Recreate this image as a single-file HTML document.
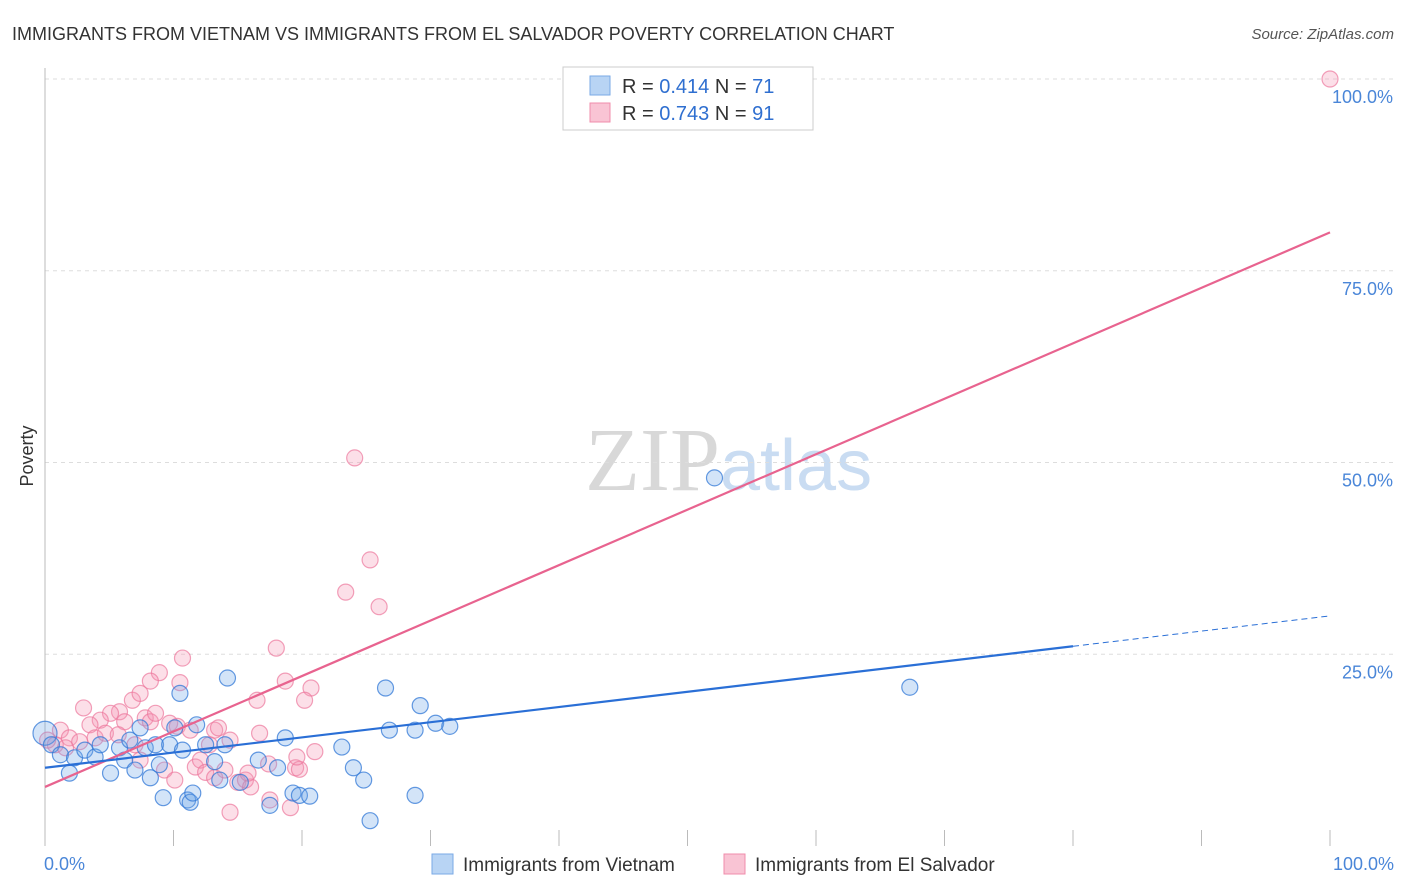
<!DOCTYPE html>
<html><head><meta charset="utf-8">
<style>
body{margin:0;background:#fff;font-family:"Liberation Sans",sans-serif;}
svg{display:block}
</style></head><body>
<svg id="c" width="1406" height="892" xmlns="http://www.w3.org/2000/svg">
<text x="12" y="40" font-size="18" fill="#333">IMMIGRANTS FROM VIETNAM VS IMMIGRANTS FROM EL SALVADOR POVERTY CORRELATION CHART</text>
<text x="1394" y="39" font-size="15" fill="#555" font-style="italic" text-anchor="end">Source: ZipAtlas.com</text>
<text x="720" y="490" font-size="90" fill="#d8d8d8" font-family="Liberation Serif,serif" text-anchor="end">ZIP</text>
<text x="720" y="490" font-size="72" fill="#c9dcf2">atlas</text>
<text transform="translate(33,456) rotate(-90)" font-size="18" fill="#333" text-anchor="middle">Poverty</text>
<g id="grid"></g><g id="pts"></g><g id="lines"></g>
<rect x="563" y="67" width="250" height="63" fill="#fff" stroke="#ccc"/>
<rect x="590" y="76" width="20" height="19" fill="#b8d4f4" stroke="#7aaae6"/>
<rect x="590" y="103" width="20" height="19" fill="#f9c4d4" stroke="#f08cab"/>
<text x="622" y="93" font-size="20" fill="#333">R = <tspan fill="#2f6fd0">0.414</tspan>   N = <tspan fill="#2f6fd0">71</tspan></text>
<text x="622" y="120" font-size="20" fill="#333">R = <tspan fill="#2f6fd0">0.743</tspan>   N = <tspan fill="#2f6fd0">91</tspan></text>
<rect x="432" y="854" width="21" height="20" fill="#b8d4f4" stroke="#7aaae6"/>
<text x="463" y="871" font-size="19" fill="#333">Immigrants from Vietnam</text>
<rect x="724" y="854" width="21" height="20" fill="#f9c4d4" stroke="#f08cab"/>
<text x="755" y="871" font-size="19" fill="#333">Immigrants from El Salvador</text>
</svg>
<script>
const yTicks=[25,50,75,100];
const yTickLabels=["25.0%","50.0%","75.0%","100.0%"];
const xTickLabels=["0.0%","100.0%"];
const vietX=[0,.5,1.2,1.9,2.3,3.1,3.9,4.3,5.1,5.8,6.2,6.6,7.0,7.4,7.8,8.2,8.6,8.9,9.2,9.7,10.1,10.5,10.7,11.1,11.3,11.5,11.8,12.5,13.2,13.6,14.0,14.2,15.2,16.6,17.5,18.1,18.7,19.3,19.8,20.6,23.1,24.0,24.8,25.3,26.5,26.8,28.8,28.8,29.2,30.4,31.5,52.1,67.3];
const vietY=[14.7,13.2,11.9,9.5,11.5,12.5,11.6,13.2,9.5,12.8,11.2,13.8,9.9,15.4,12.8,8.9,13.2,10.6,6.3,13.2,15.4,19.9,12.5,6.0,5.7,6.9,15.8,13.2,11.0,8.6,13.2,21.9,8.3,11.2,5.3,10.2,14.1,6.9,6.6,6.5,12.9,10.2,8.6,3.3,20.6,15.1,15.1,6.6,18.3,16.0,15.6,48.0,20.7];
const salvX=[100,24.1,25.3,23.4,26.0,18.0,10.7,8.9,8.2,10.5,18.7,20.7,20.2,16.5,3.0,6.8,7.4,5.8,5.1,4.3,3.5,1.2,1.9,.8,.2,1.6,2.7,3.9,4.7,6.2,7.8,8.2,8.6,9.7,10.3,11.3,12.8,13.2,13.5,14.4,16.7,11.7,12.1,12.5,13.2,14.0,15.0,15.6,16.0,15.8,17.4,19.5,19.8,21.0,19.6,19.1,17.5,14.4,9.3,10.1,7.0,7.4,5.7];
const salvY=[100,50.6,37.3,33.1,31.2,25.8,24.5,22.6,21.5,21.3,21.5,20.6,19.0,19.0,18.0,19.0,19.9,17.5,17.3,16.4,15.8,15.1,14.1,13.2,13.8,12.8,13.6,14.1,14.7,16.2,16.7,16.2,17.3,16.0,15.6,15.1,13.2,15.1,15.4,13.8,14.7,10.3,11.2,9.6,8.9,9.9,8.3,8.6,7.7,9.5,10.7,10.2,10.0,12.3,11.6,5.0,6.0,4.4,9.9,8.6,13.2,11.2,14.5];
const vietLine=[10.2,30.0];
const salvLine=[7.7,80.0];
const X0=45,X1=1330,Y0=846,Y1=79;
const sx=v=>X0+(X1-X0)*v/100, sy=v=>Y0-(Y0-Y1)*v/100;
const NS="http://www.w3.org/2000/svg";
function mk(t,a,p){const e=document.createElementNS(NS,t);for(const k in a)e.setAttribute(k,a[k]);p.appendChild(e);return e;}
const g=document.getElementById('grid');
yTicks.forEach((t,i)=>{
 const l=mk('line',{x1:X0,x2:1395,y1:sy(t),y2:sy(t),stroke:'#ddd','stroke-dasharray':'4,4'},g);
 
 
 const tx=mk('text',{x:1393,y:sy(t)+24,'font-size':18,fill:'#4a86d8','text-anchor':'end'},g);
 tx.textContent=yTickLabels[i];
 
 
});
const ax=mk('line',{x1:X0,x2:X0,y1:68,y2:846,stroke:'#bbb'},g);


for(let i=0;i<=10;i++){
 const t=mk('line',{x1:sx(i*10),x2:sx(i*10),y1:830,y2:846,stroke:'#bbb'},g);
 
 
}
[[0,'start',44],[100,'end',1394]].forEach((d,i)=>{
 const t=mk('text',{x:d[2],y:870,'font-size':18,fill:'#4a86d8','text-anchor':d[1]},g);
 t.textContent=xTickLabels[i];
 
 
});
const p=document.getElementById('pts');
function pts(xs,ys,fill,stroke,name){
 xs.forEach((x,i)=>{
  const c=mk('circle',{cx:sx(x),cy:sy(ys[i]),r:i===0&&name==='vietnam-point'?12:8,fill:fill,stroke:stroke,'stroke-width':1.2},p);
  
  
 });
}
pts(salvX,salvY,'rgba(244,150,180,0.3)','rgba(236,120,156,0.7)','elsalvador-point');
pts(vietX,vietY,'rgba(110,165,232,0.3)','rgba(50,120,215,0.75)','vietnam-point');
const L=document.getElementById('lines');
const sl=mk('line',{x1:sx(0),y1:sy(salvLine[0]),x2:sx(100),y2:sy(salvLine[1]),stroke:'#e8638f','stroke-width':2.2},L);


const vAt=x=>vietLine[0]+(vietLine[1]-vietLine[0])*x/100;
const vl=mk('line',{x1:sx(0),y1:sy(vAt(0)),x2:sx(80),y2:sy(vAt(80)),stroke:'#2a6fd6','stroke-width':2.2},L);


const vd=mk('line',{x1:sx(80),y1:sy(vAt(80)),x2:sx(100),y2:sy(vAt(100)),stroke:'#2a6fd6','stroke-width':1,'stroke-dasharray':'6,4'},L);


</script>
</body></html>
